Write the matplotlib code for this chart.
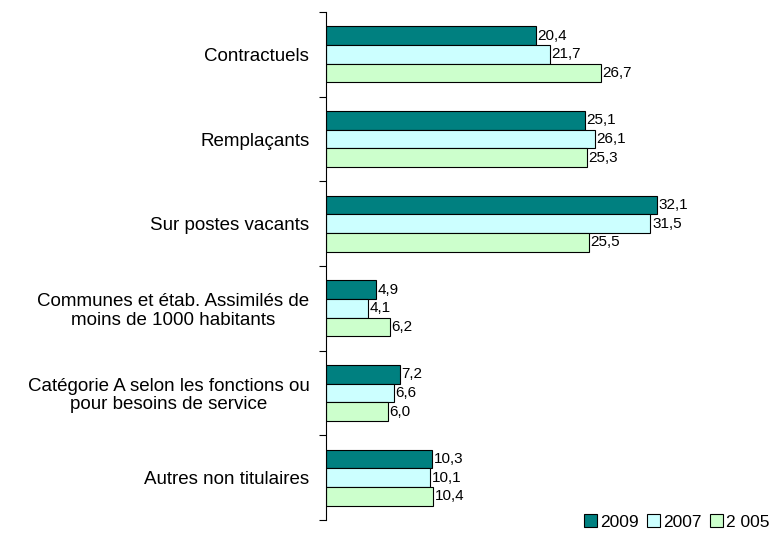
import matplotlib.pyplot as plt
import numpy as np

plt.rcParams['font.family'] = ['Liberation Sans', 'DejaVu Sans']

categories = ['Contractuels', 'Remplaçants', 'Sur postes vacants',
              'Communes et étab. Assimilés de\nmoins de 1000 habitants',
              'Catégorie A selon les fonctions ou\npour besoins de service',
              'Autres non titulaires']
v2009 = [20.4, 25.1, 32.1, 4.9, 7.2, 10.3]
v2007 = [21.7, 26.1, 31.5, 4.1, 6.6, 10.1]
v2005 = [26.7, 25.3, 25.5, 6.2, 6.0, 10.4]
series = [('2009', v2009, '#008080'), ('2007', v2007, '#CCFFFF'), ('2 005', v2005, '#CCFFCC')]

fig = plt.figure(figsize=(7.78, 5.34), dpi=100)
ax = fig.add_axes([326 / 778, 14 / 534, 412 / 778, 508 / 534])

y = np.arange(len(categories))
h = 0.22
for k, (name, vals, col) in enumerate(series):
    pos = y + (k - 1) * h
    ax.barh(pos, vals, height=h, color=col, edgecolor='black', linewidth=0.8, label=name)
    for p, v in zip(pos, vals):
        ax.text(v + 0.15, p, f'{v:.1f}'.replace('.', ','), va='center', ha='left', fontsize=11)

ax.set_ylim(len(categories) - 0.5, -0.5)
ax.set_xlim(0, 40)
ax.set_yticks(y)
ax.set_yticklabels(categories, fontsize=13.5, multialignment='center', linespacing=1.1)
ax.tick_params(axis='y', which='major', length=0, pad=12)
ax.set_yticks(np.arange(len(categories) + 1) - 0.5, minor=True)
ax.tick_params(axis='y', which='minor', length=5, width=0.8)
ax.set_xticks([])
for s in ['top', 'right', 'bottom']:
    ax.spines[s].set_visible(False)
ax.spines['left'].set_linewidth(0.8)

fig.legend(loc='lower right', bbox_to_anchor=(1.0, -0.008), ncol=3, frameon=False,
           fontsize=12.5, handlelength=0.75, handleheight=0.75, handletextpad=0.15,
           columnspacing=0.5, borderaxespad=0.1)

fig.savefig('out.png', dpi=100)
